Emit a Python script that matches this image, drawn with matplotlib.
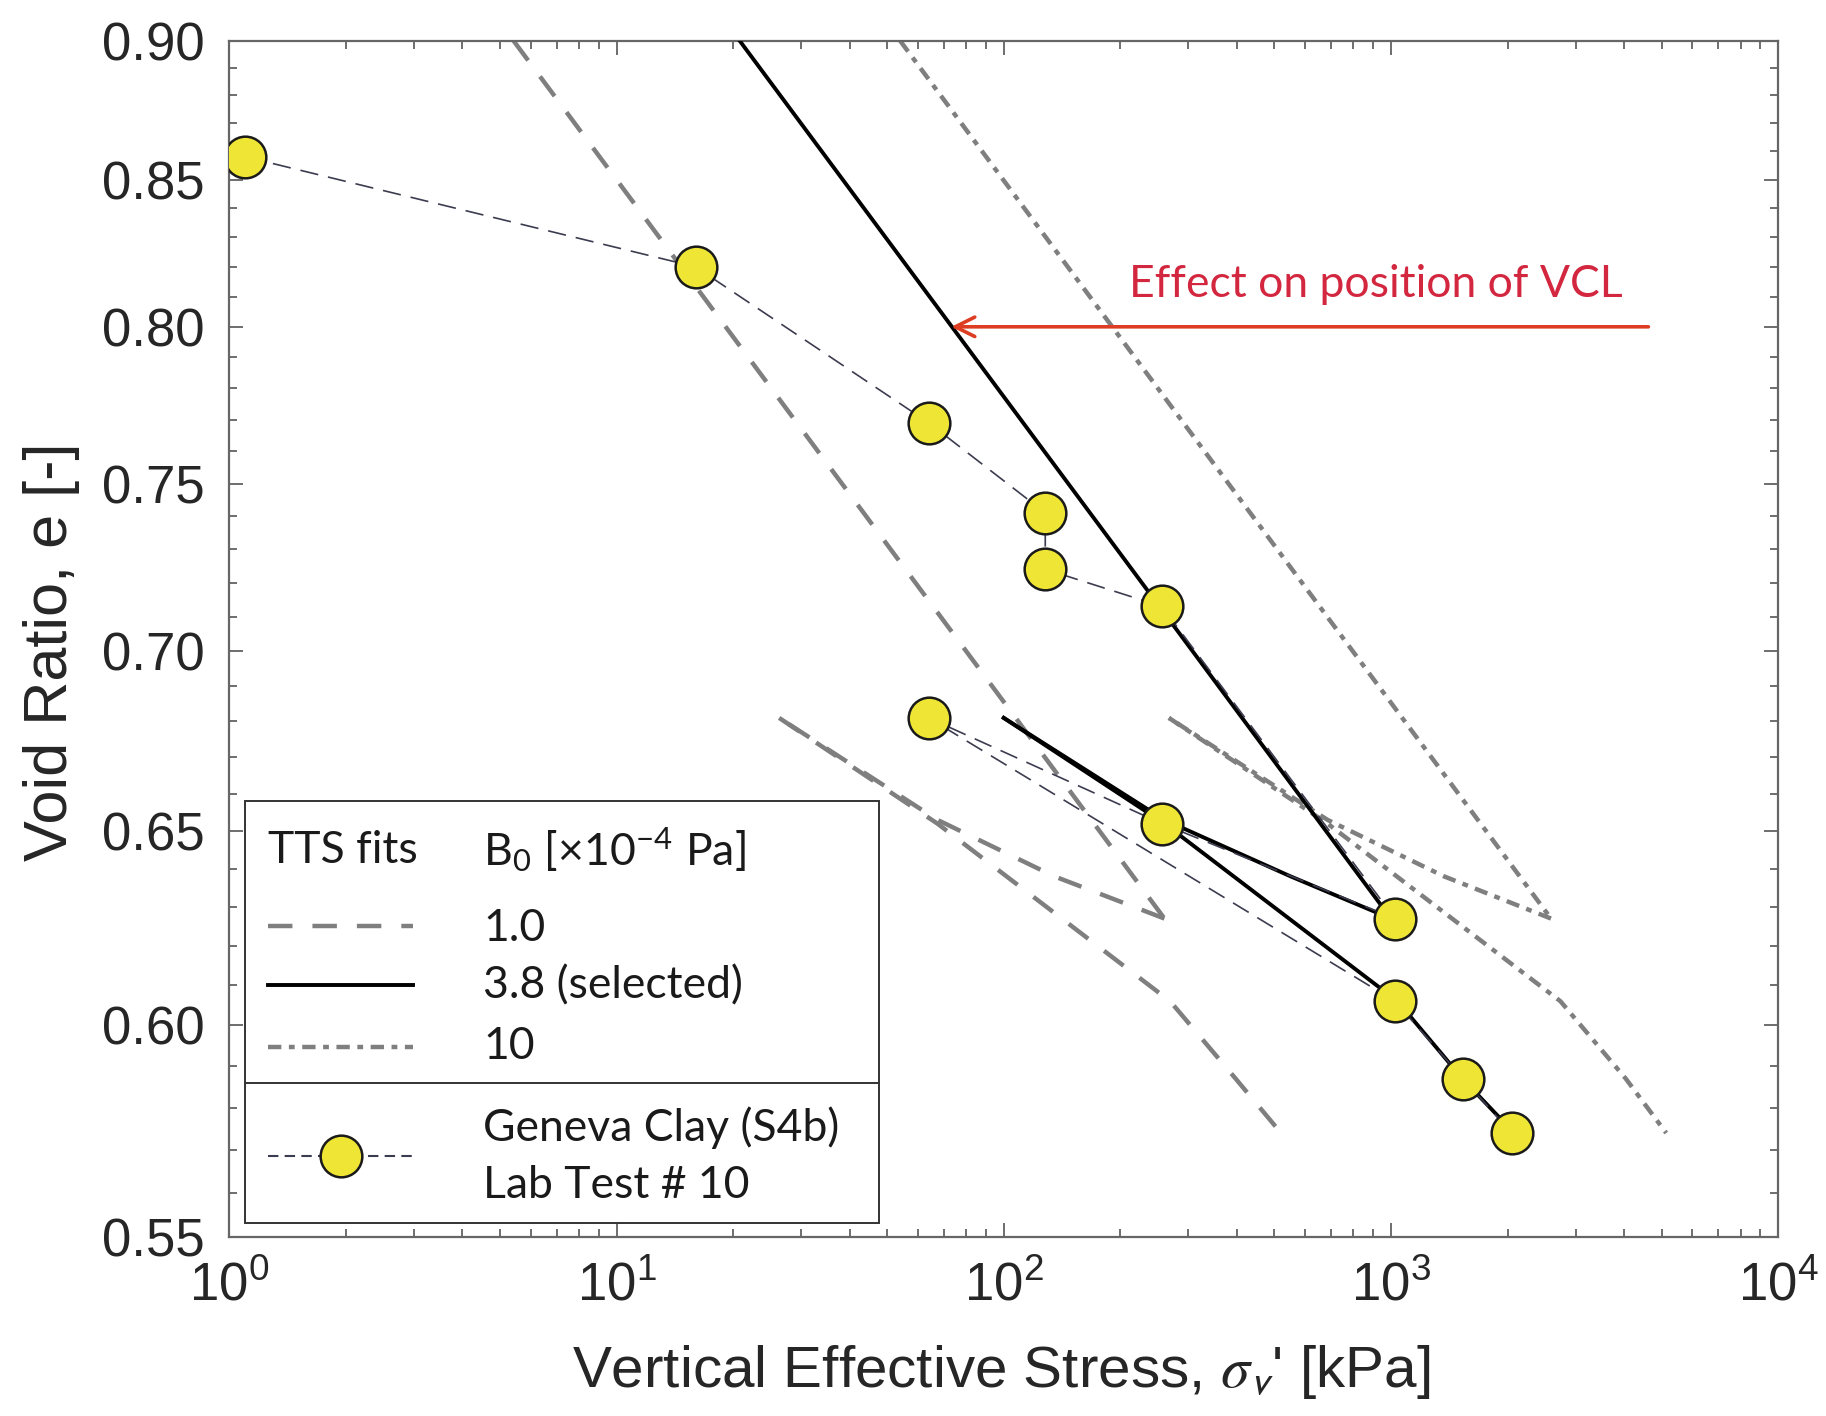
import numpy as np
import matplotlib
matplotlib.use("Agg")
import matplotlib.pyplot as plt
from matplotlib.patches import Rectangle, FancyArrowPatch
from matplotlib.ticker import FixedLocator, FuncFormatter, LogLocator, NullFormatter

plt.rcParams["font.family"] = ["Liberation Sans", "DejaVu Sans"]
plt.rcParams["mathtext.fontset"] = "stix"

# Geneva Clay (S4b), lab test 10: loading, creep, unloading, reloading
test_stress = [1.1, 16, 64, 128, 128, 256, 1024, 256, 64, 1024, 1536, 2048]
test_void = [0.858, 0.820, 0.769, 0.741, 0.724, 0.713, 0.627, 0.652, 0.681, 0.606, 0.587, 0.574]

# TTS fit, B0 = 3.8 (selected)
b38_load_s = [20.8, 1000]
b38_load_e = [0.900, 0.627]
b38_unload_s = [1000, 550, 260, 100]
b38_unload_e = [0.627, 0.638, 0.653, 0.681]
b38_reload_s = [100, 260, 1040, 1530, 2080]
b38_reload_e = [0.681, 0.652, 0.606, 0.587, 0.574]

# TTS fit, B0 = 1.0
b1_load_s = [5.42, 260]
b1_load_e = [0.900, 0.627]
b1_unload_s = [260, 135, 67.4, 26.3]
b1_unload_e = [0.627, 0.638, 0.653, 0.681]
b1_reload_s = [26.3, 67.4, 269, 397, 520]
b1_reload_e = [0.681, 0.652, 0.606, 0.587, 0.574]

# TTS fit, B0 = 10
b10_load_s = [54.0, 2590]
b10_load_e = [0.900, 0.627]
b10_unload_s = [2590, 1370, 686, 267]
b10_unload_e = [0.627, 0.638, 0.653, 0.681]
b10_reload_s = [267, 686, 2740, 4040, 5140]
b10_reload_e = [0.681, 0.652, 0.606, 0.587, 0.574]

y_ticks = [0.55, 0.60, 0.65, 0.70, 0.75, 0.80, 0.85, 0.90]

gray = "#7f7f7f"
dash_b1 = (5.5, 4.5)
dash_b10 = (3.0, 1.7, 1.3, 1.7)
data_col = "#3c3c50"
yellow = "#efe534"

fig = plt.figure(figsize=(18.26, 14.16), dpi=100)
ax = fig.add_axes([0.1256, 0.1266, 0.8482, 0.8446])

for s, e in [(b1_load_s, b1_load_e), (b1_unload_s, b1_unload_e), (b1_reload_s, b1_reload_e)]:
    ax.plot(s, e, color=gray, lw=3.2, dashes=dash_b1, zorder=2)
for s, e in [(b10_load_s, b10_load_e), (b10_unload_s, b10_unload_e), (b10_reload_s, b10_reload_e)]:
    ax.plot(s, e, color=gray, lw=3.2, dashes=dash_b10, zorder=2)
for s, e in [(b38_load_s, b38_load_e), (b38_unload_s, b38_unload_e), (b38_reload_s, b38_reload_e)]:
    ax.plot(s, e, color="black", lw=2.8, zorder=3)

ax.plot(test_stress, test_void, color=data_col, lw=1.2, dashes=(11, 6), zorder=4)
ax.plot(test_stress, test_void, ls="none", marker="o", ms=30, mfc=yellow,
        mec="#1a1a1a", mew=1.8, zorder=5)

# arrow pointing at the selected VCL
arrow = FancyArrowPatch((4700, 0.80), (72, 0.80), arrowstyle="->,head_length=0.7,head_width=0.35",
                        mutation_scale=20, color="#dc3d23", lw=2.6, zorder=6)
ax.add_patch(arrow)
ax.text(211, 0.814, "Effect on position of VCL", family="Lato", fontsize=32,
        color="#d3263f", ha="left", va="center", zorder=6)

ax.set_xscale("log")
ax.set_yscale("log")
ax.set_xlim(1, 1e4)
ax.set_ylim(0.55, 0.90)

ax.yaxis.set_major_locator(FixedLocator(y_ticks))
ax.yaxis.set_major_formatter(FuncFormatter(lambda v, p: "%.2f" % v))
ax.yaxis.set_minor_locator(FixedLocator([round(v, 2) for v in np.arange(0.56, 0.90, 0.01)]))
ax.yaxis.set_minor_formatter(NullFormatter())
ax.xaxis.set_major_locator(LogLocator(base=10, numticks=10))
ax.xaxis.set_minor_locator(LogLocator(base=10, subs=range(2, 10), numticks=20))
ax.xaxis.set_minor_formatter(NullFormatter())

ax.tick_params(which="both", direction="in", top=True, right=True, color="#555555", width=1.2)
ax.tick_params(which="major", length=10)
ax.tick_params(which="minor", length=6)
ax.tick_params(axis="y", labelsize=38, pad=18, labelcolor="#262626")
ax.tick_params(axis="x", labelsize=38, pad=18, labelcolor="#262626")
for sp in ax.spines.values():
    sp.set_color("#666666")
    sp.set_linewidth(1.6)

fig.text(0.0367, 0.540, "Void Ratio, e [-]", rotation=90, rotation_mode="anchor",
         ha="center", va="baseline", fontsize=44, color="#262626")
fig.text(0.548, 0.0205, r"Vertical Effective Stress, $\sigma_{\mathsf{v}}$' [kPa]",
         ha="center", va="baseline", fontsize=42, color="#262626")

# legend box drawn by hand
edge = "#333333"
ax.add_patch(Rectangle((0.0098, 0.0117), 0.4097, 0.3525, transform=ax.transAxes,
                       fc="white", ec=edge, lw=1.4, zorder=10))
ax.plot([0.0098, 0.4195], [0.1285, 0.1285], transform=ax.transAxes, color=edge, lw=1.4, zorder=11)

lx0, lx1, tx = 0.0248, 0.1188, 0.1639
leg_font = dict(family="Lato", fontsize=32, color="#1a1a1a", va="center", ha="left",
                transform=ax.transAxes, zorder=12)
ax.text(lx0, 0.3233, "TTS fits", **leg_font)
ax.text(tx, 0.3233, r"B$_\mathregular{0}$ [×10$^\mathregular{-4}$ Pa]", **leg_font)
ax.plot([lx0, lx1], [0.260, 0.260], transform=ax.transAxes, color=gray, lw=3.2,
        dashes=dash_b1, zorder=12)
ax.text(tx, 0.258, "1.0", **leg_font)
ax.plot([lx0, lx1], [0.2105, 0.2105], transform=ax.transAxes, color="black", lw=2.8, zorder=12)
ax.text(tx, 0.2094, "3.8 (selected)", **leg_font)
ax.plot([lx0, lx1], [0.159, 0.159], transform=ax.transAxes, color=gray, lw=3.2,
        dashes=dash_b10, zorder=12)
ax.text(tx, 0.1587, "10", **leg_font)
ax.plot([lx0, lx1], [0.0672, 0.0672], transform=ax.transAxes, color=data_col, lw=1.5,
        dashes=(5, 3), zorder=12)
ax.plot([0.0722], [0.0672], transform=ax.transAxes, ls="none", marker="o", ms=30,
        mfc=yellow, mec="#1a1a1a", mew=1.8, zorder=13)
ax.text(tx, 0.0915, "Geneva Clay (S4b)", **leg_font)
ax.text(tx, 0.0428, "Lab Test # 10", **leg_font)

fig.savefig("out.png", dpi=100)
